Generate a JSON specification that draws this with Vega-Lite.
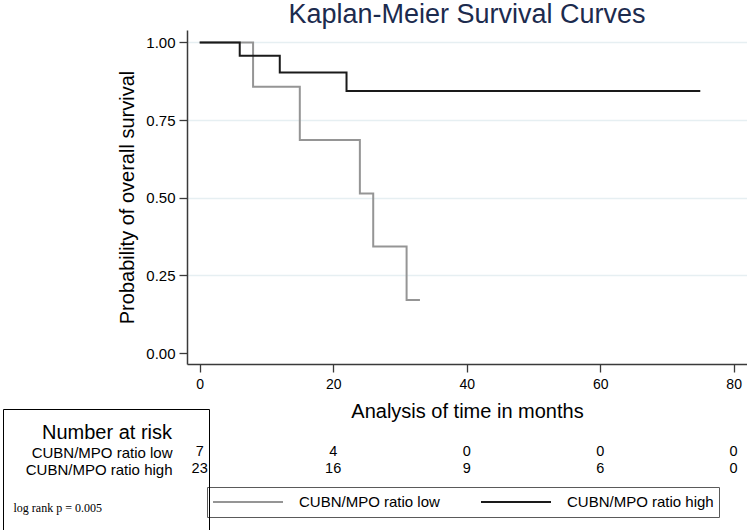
{
  "$schema": "https://vega.github.io/schema/vega-lite/v6.json",
  "background": "white",
  "padding": {"left": 2, "top": 1, "right": 0, "bottom": 0},
  "config": {
    "font": "Liberation Sans",
    "view": {"stroke": null},
    "axis": {
      "labelColor": "#000000",
      "titleColor": "#000000",
      "titleFontWeight": "normal",
      "labelFont": "Liberation Sans",
      "titleFont": "Liberation Sans",
      "domainColor": "#3a3a3a",
      "tickColor": "#3a3a3a",
      "domainWidth": 1.5,
      "tickWidth": 1.3
    },
    "legend": {
      "labelFont": "Liberation Sans",
      "labelColor": "#000000"
    }
  },
  "datasets": {
    "km": [
      {"group": "CUBN/MPO ratio low", "time": 0, "surv": 1.0},
      {"group": "CUBN/MPO ratio low", "time": 8, "surv": 0.857},
      {"group": "CUBN/MPO ratio low", "time": 15, "surv": 0.686},
      {"group": "CUBN/MPO ratio low", "time": 24, "surv": 0.514},
      {"group": "CUBN/MPO ratio low", "time": 26, "surv": 0.343},
      {"group": "CUBN/MPO ratio low", "time": 31, "surv": 0.171},
      {"group": "CUBN/MPO ratio low", "time": 33, "surv": 0.171},
      {"group": "CUBN/MPO ratio high", "time": 0, "surv": 1.0},
      {"group": "CUBN/MPO ratio high", "time": 6, "surv": 0.957},
      {"group": "CUBN/MPO ratio high", "time": 12, "surv": 0.903},
      {"group": "CUBN/MPO ratio high", "time": 22, "surv": 0.844},
      {"group": "CUBN/MPO ratio high", "time": 75, "surv": 0.844}
    ],
    "risk": [
      {"group": "CUBN/MPO ratio low", "time": 0, "n": 7},
      {"group": "CUBN/MPO ratio low", "time": 20, "n": 4},
      {"group": "CUBN/MPO ratio low", "time": 40, "n": 0},
      {"group": "CUBN/MPO ratio low", "time": 60, "n": 0},
      {"group": "CUBN/MPO ratio low", "time": 80, "n": 0},
      {"group": "CUBN/MPO ratio high", "time": 0, "n": 23},
      {"group": "CUBN/MPO ratio high", "time": 20, "n": 16},
      {"group": "CUBN/MPO ratio high", "time": 40, "n": 9},
      {"group": "CUBN/MPO ratio high", "time": 60, "n": 6},
      {"group": "CUBN/MPO ratio high", "time": 80, "n": 0}
    ]
  },
  "bounds": "flush",
  "spacing": 79.5,
  "vconcat": [
    {
      "width": 560,
      "height": 334,
      "title": {
        "text": "Kaplan-Meier Survival Curves",
        "fontSize": 27,
        "fontWeight": "normal",
        "color": "#1c2b4e",
        "anchor": "middle",
        "frame": "group",
        "baseline": "alphabetic",
        "offset": -20
      },
      "layer": [
        {
          "data": {"name": "km"},
          "mark": {"type": "line", "interpolate": "step-after", "strokeWidth": 2},
          "encoding": {
            "x": {
              "field": "time",
              "type": "quantitative",
              "scale": {"domain": [-1.9, 82], "nice": false, "zero": false},
              "axis": {
                "values": [0, 20, 40, 60, 80],
                "title": "Analysis of time in months",
                "grid": false,
                "tickSize": 8,
                "labelPadding": 5,
                "labelFontSize": 14,
                "labelFlush": false,
                "titleFontSize": 20,
                "titlePadding": 10
              }
            },
            "y": {
              "field": "surv",
              "type": "quantitative",
              "scale": {"domain": [-0.035, 1.04], "nice": false, "zero": false},
              "axis": {
                "values": [0, 0.25, 0.5, 0.75, 1],
                "format": ".2f",
                "title": "Probability of overall survival",
                "grid": true,
                "gridColor": "#e6eff2",
                "gridWidth": 1.5,
                "gridOpacity": {"condition": {"test": "datum.value === 0", "value": 0}, "value": 1},
                "tickSize": 8,
                "labelPadding": 4,
                "labelFontSize": 15,
                "titleFontSize": 20,
                "titlePadding": 8
              }
            },
            "color": {
              "field": "group",
              "type": "nominal",
              "scale": {
                "domain": ["CUBN/MPO ratio low", "CUBN/MPO ratio high"],
                "range": ["#959595", "#1a1a1a"]
              },
              "legend": {
                "title": null,
                "orient": "none",
                "legendX": 20,
                "legendY": 457,
                "direction": "horizontal",
                "columns": 2,
                "columnPadding": 40,
                "padding": 5,
                "strokeColor": "#5a5a5a",
                "symbolType": "stroke",
                "symbolSize": 4900,
                "symbolStrokeWidth": 2,
                "clipHeight": 20,
                "labelOffset": 15,
                "labelFontSize": 15
              }
            }
          }
        },
        {
          "data": {"values": []},
          "mark": {
            "type": "point",
            "filled": true,
            "stroke": "#000000",
            "fill": "#ffffff",
            "strokeWidth": 5
          },
          "encoding": {
            "shape": {
              "field": "test",
              "type": "nominal",
              "scale": {
                "domain": ["log rank p = 0.005"],
                "range": ["M-1,-0.1917H1V0.1917H-1Z"]
              },
              "legend": {
                "title": null,
                "orient": "none",
                "legendX": -184,
                "legendY": 379,
                "padding": 0,
                "strokeColor": "#000000",
                "symbolSize": 37249,
                "symbolStrokeColor": "#000000",
                "symbolFillColor": "#ffffff",
                "symbolStrokeWidth": 5,
                "symbolOpacity": 1,
                "labelOffset": -187.5,
                "labelFont": "Liberation Serif",
                "labelFontSize": 12
              }
            }
          }
        }
      ]
    },
    {
      "width": 560,
      "height": 34,
      "data": {"name": "risk"},
      "mark": {"type": "text", "fontSize": 14.5, "color": "#000000", "baseline": "middle"},
      "encoding": {
        "x": {
          "field": "time",
          "type": "quantitative",
          "scale": {"domain": [-1.9, 82], "nice": false, "zero": false},
          "axis": null
        },
        "y": {
          "field": "group",
          "type": "nominal",
          "scale": {
            "type": "point",
            "domain": ["CUBN/MPO ratio low", "CUBN/MPO ratio high"],
            "padding": 0.5
          },
          "axis": {
            "title": "Number at risk",
            "titleAngle": 0,
            "titleAlign": "right",
            "titleBaseline": "middle",
            "titleX": -15.5,
            "titleY": -11.5,
            "titleFontSize": 20,
            "domain": false,
            "ticks": false,
            "grid": false,
            "labelPadding": 15,
            "labelFontSize": 15
          }
        },
        "text": {"field": "n", "type": "quantitative"}
      }
    }
  ]
}
